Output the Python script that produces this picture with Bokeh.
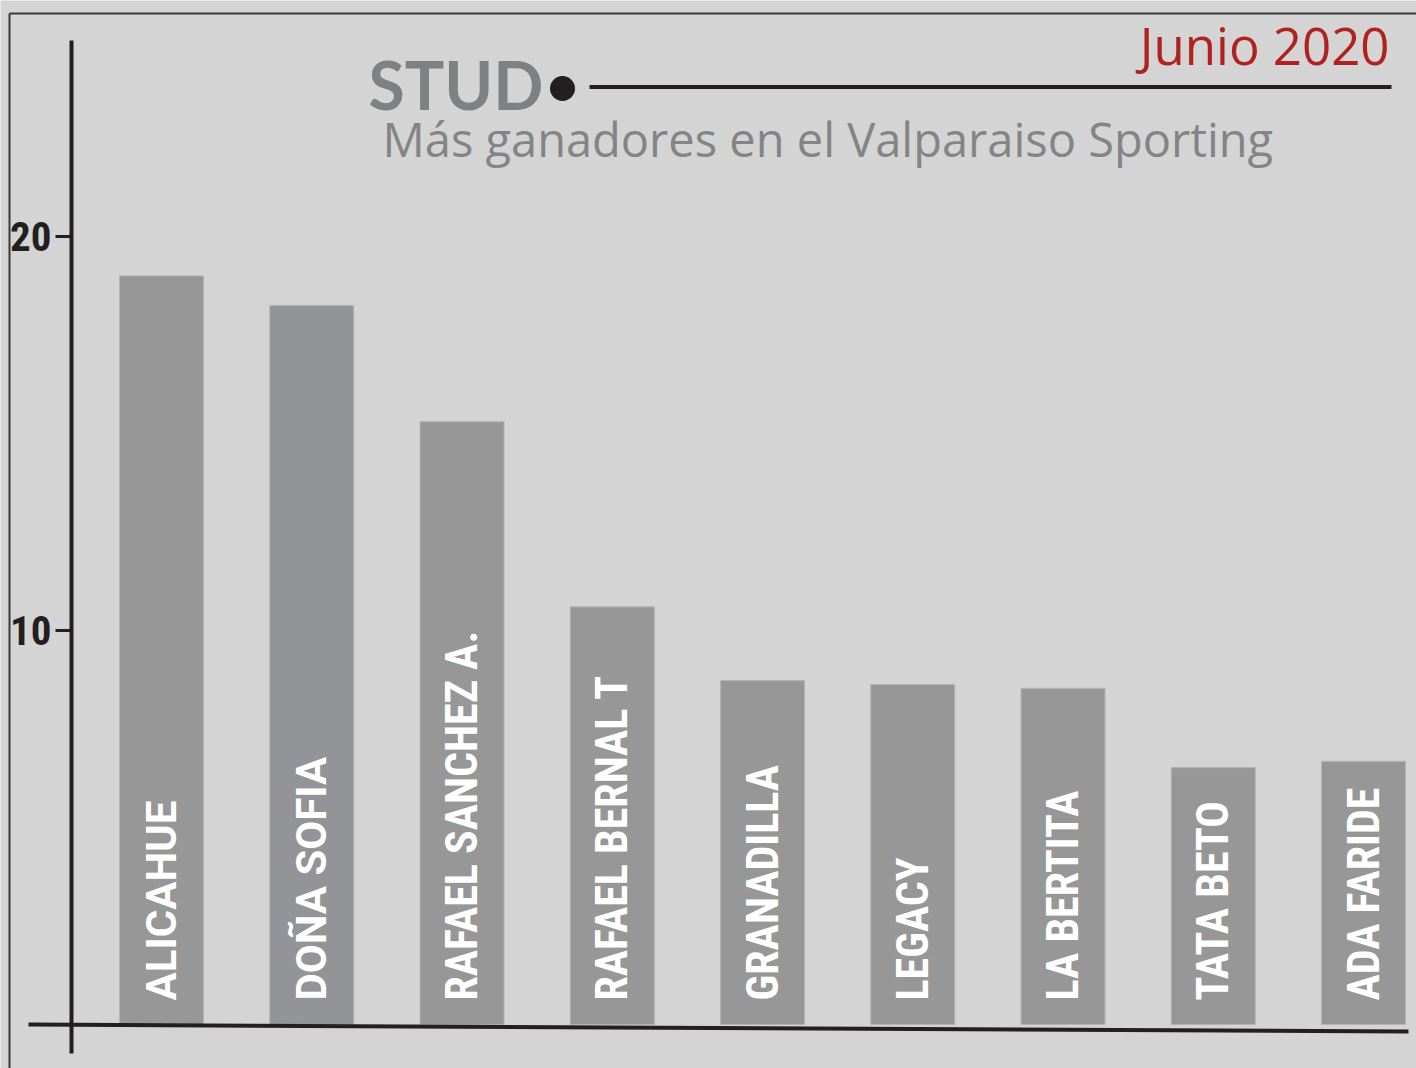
from bokeh.plotting import figure
from bokeh.models import Range1d, ColumnDataSource
from bokeh.core.properties import value
from bokeh.embed import file_html
from bokeh.resources import INLINE
import math

# ---- data ----
studs = ["ALICAHUE", "DOÑA SOFIA", "RAFAEL SANCHEZ A.", "RAFAEL BERNAL T", "GRANADILLA",
         "LEGACY", "LA BERTITA", "TATA BETO", "ADA FARIDE"]
winners = [19.0, 18.25, 15.3, 10.6, 8.73, 8.63, 8.53, 6.52, 6.68]
y_ticks = [10, 20]
y_tick_labels = ["10", "20"]
title = "STUD"
subtitle = "Más ganadores en el Valparaiso Sporting"
date_label = "Junio 2020"

# ---- styling / layout ----
W, H = 1416, 1068
BG = "#d4d4d4"
INK = "#231f20"
COND = "Roboto Condensed"
bar_colors = ["#969796", "#939498", "#969796", "#969796", "#969796",
              "#969796", "#969796", "#969796", "#969796"]
label_fonts = ["Roboto", "Roboto", COND, COND, COND, COND, COND, COND, COND]
label_sizes = ["42px", "42px", "44px", "44px", "44px", "44px", "44px", "44px", "44px"]

X0, XSTEP = 161.0, 150.25     # pixel centre of first bar, pixel step between bars
Y0, YUNIT = 1024.0, 39.4      # pixel of value 0, pixels per unit


def px2x(px):
    return (px - X0) / XSTEP


def px2y(py):
    return (Y0 - py) / YUNIT


p = figure(width=W, height=H, output_backend="svg", toolbar_location=None,
           x_range=Range1d(px2x(0), px2x(W)), y_range=Range1d(px2y(H), px2y(0)),
           x_axis_location=None, y_axis_location=None, min_border=0,
           background_fill_color=BG, border_fill_color=BG, outline_line_color=None)
p.grid.visible = False

xs = list(range(len(studs)))
src = ColumnDataSource(dict(x=xs, top=winners, name=studs, color=bar_colors,
                            font=label_fonts, size=label_sizes))

# bars
p.vbar(x="x", top="top", bottom=0, width=84 / XSTEP, source=src,
       fill_color="color", line_color="#b3b3b3", line_width=1)

# rotated labels inside bars
p.text(x="x", y=px2y(1000), text="name", source=src, angle=math.pi / 2,
       text_align="left", text_baseline="middle", text_color="white",
       text_font="font", text_font_style="bold", text_font_size="size")

# outer frame lines
p.segment(x0=[px2x(9), px2x(9)], y0=[px2y(13), px2y(13)],
          x1=[px2x(W + 5), px2x(9)], y1=[px2y(13), px2y(H + 5)],
          line_color="#3a3a3a", line_width=2)

# y axis line
p.segment(x0=[px2x(71)], y0=[px2y(40)], x1=[px2x(71)], y1=[px2y(1053)],
          line_color=INK, line_width=4)
# baseline (slightly slanted as in the original)
p.segment(x0=[px2x(28)], y0=[px2y(1024)], x1=[px2x(1408)], y1=[px2y(1031)],
          line_color=INK, line_width=4)

# ticks and tick labels
p.segment(x0=[px2x(55)] * len(y_ticks), y0=y_ticks,
          x1=[px2x(71)] * len(y_ticks), y1=y_ticks,
          line_color=INK, line_width=3)
p.text(x=[px2x(51)] * len(y_ticks), y=y_ticks, text=y_tick_labels,
       text_align="right", text_baseline="middle", text_color=INK,
       text_font=value(COND), text_font_style="bold", text_font_size="41px")

# title block
p.text(x=[px2x(368)], y=[px2y(84)], text=[title], text_align="left",
       text_baseline="middle", text_color="#7e8081",
       text_font=value("Lato"), text_font_style="bold", text_font_size="66px")
p.scatter(x=[px2x(562)], y=[px2y(88)], size=25, marker="circle",
          fill_color=INK, line_color=None)
p.segment(x0=[px2x(589)], y0=[px2y(86.5)], x1=[px2x(1391)], y1=[px2y(86.5)],
          line_color=INK, line_width=4)
p.text(x=[px2x(382)], y=[px2y(138)], text=[subtitle], text_align="left",
       text_baseline="middle", text_color="#838486",
       text_font=value("Open Sans"), text_font_size="47px")
p.text(x=[px2x(1389)], y=[px2y(44)], text=[date_label], text_align="right",
       text_baseline="middle", text_color="#b02220",
       text_font=value("Open Sans"), text_font_size="51px")

open("out.html", "w").write(file_html(p, INLINE))
